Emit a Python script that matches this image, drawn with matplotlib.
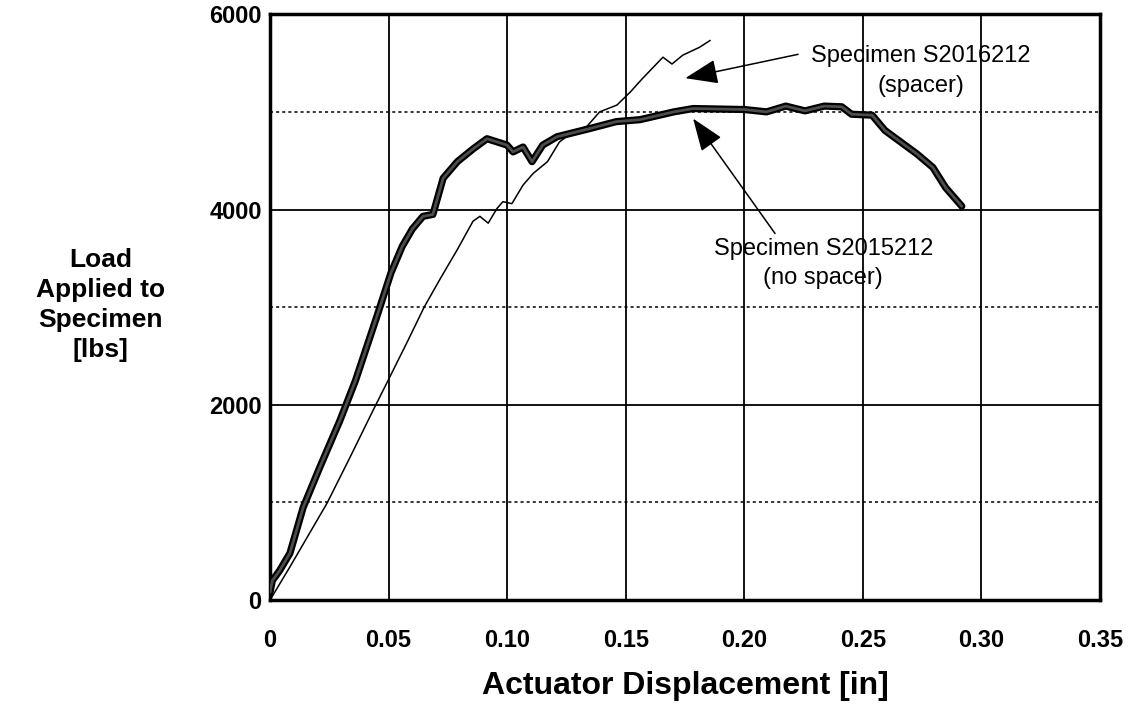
import matplotlib.pyplot as plt
import numpy as np

plt.rcParams['font.family'] = ['Liberation Sans', 'DejaVu Sans']

# Specimen S2015212 (no spacer) - thick curve
noSpacerX = [0, 0.001, 0.004, 0.0084, 0.014, 0.021, 0.0295, 0.036, 0.045, 0.051,
             0.0557, 0.060, 0.0645, 0.0687, 0.073, 0.079, 0.0856, 0.0915, 0.0999,
             0.1025, 0.1067, 0.1105, 0.115, 0.121, 0.135, 0.146, 0.156, 0.1703,
             0.1784, 0.20, 0.2094, 0.2175, 0.2256, 0.2337, 0.2411, 0.2452, 0.2539,
             0.2593, 0.2728, 0.2795, 0.2849, 0.2917]
noSpacerY = [80, 200, 300, 480, 950, 1360, 1840, 2245, 2900, 3350,
             3620, 3800, 3930, 3950, 4320, 4490, 4620, 4725, 4660,
             4590, 4640, 4490, 4660, 4745, 4830, 4900, 4920, 5000,
             5034, 5024, 5000, 5059, 5010, 5059, 5052, 4976, 4966,
             4810, 4569, 4431, 4224, 4034]

# Specimen S2016212 (spacer) - thin curve
spacerX = [0, 0.0084, 0.0156, 0.024, 0.0337, 0.0434, 0.0497, 0.058, 0.065, 0.072,
           0.079, 0.0856, 0.0885, 0.092, 0.0957, 0.0982, 0.102, 0.1067, 0.111,
           0.117, 0.122, 0.1278, 0.1336, 0.139, 0.1463, 0.1518, 0.157, 0.1657,
           0.1695, 0.174, 0.181, 0.1855]
spacerY = [0, 340, 640, 990, 1460, 1940, 2245, 2650, 3000, 3300,
           3590, 3880, 3930, 3860, 4010, 4080, 4060, 4250, 4370,
           4490, 4690, 4800, 4850, 5000, 5070, 5200, 5340, 5560,
           5490, 5580, 5660, 5730]

xTicks = [0, 0.05, 0.10, 0.15, 0.20, 0.25, 0.30, 0.35]
xTickLabels = ['0', '0.05', '0.10', '0.15', '0.20', '0.25', '0.30', '0.35']
yTicks = [0, 2000, 4000, 6000]
yMinor = [1000, 3000, 5000]

fig = plt.figure(figsize=(11.46, 7.11), dpi=100)
ax = fig.add_axes([0.2356, 0.156, 0.7243, 0.824])

ax.set_xlim(0, 0.35)
ax.set_ylim(0, 6000)

# grid
for xv in xTicks[1:-1]:
    ax.axvline(xv, color='black', lw=1.3, zorder=1)
for yv in yTicks[1:-1]:
    ax.axhline(yv, color='black', lw=1.3, zorder=1)
for yv in yMinor:
    ax.axhline(yv, color='black', lw=1.1, ls=(0, (2, 2)), zorder=1)

# curves
ax.plot(spacerX, spacerY, color='black', lw=1.1, zorder=3)
ax.plot(noSpacerX, noSpacerY, color='black', lw=5.2, solid_capstyle='round', solid_joinstyle='round', zorder=4)
ax.plot(noSpacerX, noSpacerY, color='0.3', lw=2, solid_capstyle='round', solid_joinstyle='round', zorder=5)

ax.set_xticks(xTicks)
ax.set_xticklabels(xTickLabels, fontsize=17, fontweight='bold')
ax.set_yticks(yTicks)
ax.set_yticklabels([str(v) for v in yTicks], fontsize=17, fontweight='bold')
ax.tick_params(length=0, pad=21, axis='x')
ax.tick_params(length=0, pad=6, axis='y')

for s in ax.spines.values():
    s.set_linewidth(2.5)

ax.set_xlabel('Actuator Displacement [in]', fontsize=23, fontweight='bold', va='center')
ax.xaxis.set_label_coords(0.5, -0.147)
fig.text(0.088, 0.571, 'Load\nApplied to\nSpecimen\n[lbs]', fontsize=19, fontweight='bold',
         ha='center', va='center', linespacing=1.3)

arrowProps = dict(arrowstyle='-|>,head_length=1.2,head_width=0.45', color='black', lw=1.1,
                  facecolor='0.5', shrinkA=0, shrinkB=0)
ax.annotate('Specimen S2016212\n(spacer)', xy=(0.1751, 5345), xytext=(0.2745, 5420),
            ha='center', va='center', fontsize=17, linespacing=1.45,
            arrowprops=dict(arrowProps, relpos=(-0.06, 0.82)))
ax.annotate('Specimen S2015212\n(no spacer)', xy=(0.1784, 4931), xytext=(0.2333, 3448),
            ha='center', va='center', fontsize=17, linespacing=1.45,
            arrowprops=dict(arrowProps, relpos=(0.28, 1.08)))

fig.savefig('out.png', dpi=100)
